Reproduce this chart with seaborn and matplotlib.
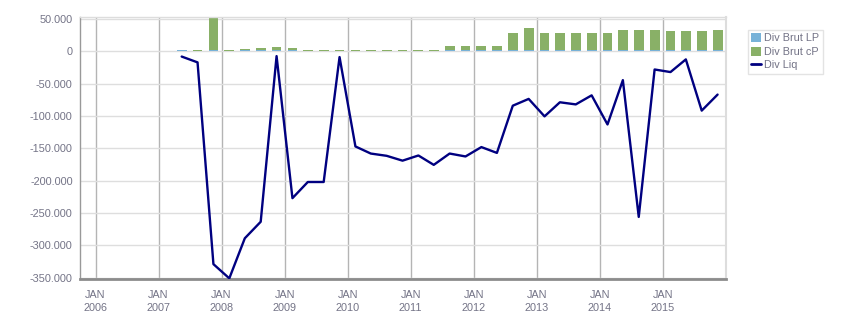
import numpy as np
import pandas as pd
import matplotlib
matplotlib.use("Agg")
import matplotlib.pyplot as plt
import matplotlib.dates as mdates
from matplotlib.patches import Patch
from matplotlib.lines import Line2D
import seaborn as sns

# ---- data (quarterly, Q2 2007 .. Q4 2015) ----
quarters = pd.date_range("2007-05-01", periods=35, freq="3MS") + pd.Timedelta(days=14)

div_brut_lp = [1500, 0, 1500, 0, 1500, 1500, 1500, 1500,
               0, 0, 0, 0, 0, 0, 0, 0, 0,
               1500, 1500, 1500, 1500, 1500, 1500, 1500, 1500, 1500,
               1500, 1500, 1500, 1500, 1500, 1500, 1500, 1500, 1500]

div_brut_cp = [600, 1500, 51800, 1500, 2100, 3700, 5200, 3700,
               1500, 1500, 1500, 1500, 1500, 1500, 1500, 1500, 1500,
               6800, 6800, 6800, 6800, 27500, 34700, 27500, 27500, 27500,
               27500, 27500, 31600, 31600, 31600, 30100, 30100, 30100, 31600]

div_liq = [-8000, -17000, -329000, -351000, -289000, -263500, -7300, -227000,
           -202000, -202000, -8800, -147000, -158000, -161500, -169000, -161000,
           -175500, -158000, -162500, -148000, -157000, -84000, -73500, -100500,
           -78700, -82000, -68000, -113000, -44500, -256000, -28000, -32000,
           -12400, -91600, -66800]

series_labels = ["Div Brut LP", "Div Brut cP", "Div Liq"]
y_ticks = list(range(-350000, 50001, 50000))
x_tick_years = list(range(2006, 2016))

# ---- style ----
sns.set_style("white")
plt.rcParams["font.family"] = ["Liberation Sans", "DejaVu Sans"]

GREEN = "#89b067"
BLUE = "#78b2d8"
NAVY = "#000080"
TXT = "#737386"

fig = plt.figure(figsize=(8.51, 3.13), dpi=100)
ax = fig.add_axes([79.7 / 851, 1 - 279 / 313, (725.7 - 79.7) / 851, (279 - 17.3) / 313])

xnum = mdates.date2num(quarters.to_pydatetime())
total = np.array(div_brut_lp) + np.array(div_brut_cp)

df = pd.DataFrame({"x": xnum, "total": total, "lp": div_brut_lp, "liq": div_liq})

sns.barplot(data=df, x="x", y="total", native_scale=True, color=GREEN, saturation=1,
            width=0.64, linewidth=0, errorbar=None, ax=ax, zorder=2)
sns.barplot(data=df, x="x", y="lp", native_scale=True, color=BLUE, saturation=1,
            width=0.64, linewidth=0, errorbar=None, ax=ax, zorder=2)
sns.lineplot(data=df, x="x", y="liq", color=NAVY, lw=1.7, ax=ax, zorder=3)

# ---- axes ----
ax.set_xlim(mdates.date2num(pd.Timestamp("2005-10-01")), mdates.date2num(pd.Timestamp("2016-01-01")))
ax.set_ylim(-352000, 52700)
ax.set_xlabel("")
ax.set_ylabel("")

major_x = [mdates.date2num(pd.Timestamp(f"{y}-01-01")) for y in x_tick_years]
ax.set_xticks(major_x)
ax.set_xticklabels([f"JAN\n{y}" for y in x_tick_years])
ax.xaxis.set_minor_locator(mdates.MonthLocator(bymonth=[4, 7, 10]))
ax.set_yticks(y_ticks)
ax.set_yticklabels([f"{v:,.0f}".replace(",", ".") for v in y_ticks])

ax.set_axisbelow(True)
ax.grid(axis="x", which="major", color="#b4b4b4", lw=1)
ax.grid(axis="y", which="major", color="#dedede", lw=1)

ax.tick_params(axis="x", which="major", length=3, width=1, color="#b4b4b4",
               labelsize=7.8, labelcolor=TXT, pad=5)
ax.tick_params(axis="x", which="minor", length=3, width=1, color="#999999")
ax.tick_params(axis="y", which="major", length=3, width=1, color="#999999",
               labelsize=7.8, labelcolor=TXT, pad=2)
for lab in ax.get_xticklabels():
    lab.set_linespacing(1.35)

ax.spines["left"].set_color("#999999")
ax.spines["left"].set_linewidth(1)
ax.spines["bottom"].set_color("#8c8c8c")
ax.spines["bottom"].set_linewidth(2)
ax.spines["top"].set_color("#dddddd")
ax.spines["top"].set_linewidth(1)
ax.spines["right"].set_color("#dddddd")
ax.spines["right"].set_linewidth(1.5)

handles = [Patch(facecolor=BLUE, edgecolor="none", label=series_labels[0]),
           Patch(facecolor=GREEN, edgecolor="none", label=series_labels[1]),
           Line2D([0], [0], color=NAVY, lw=2, label=series_labels[2])]
leg = fig.legend(handles=handles, loc="upper left", bbox_to_anchor=(748 / 851, 1 - 30 / 313),
                 frameon=True, fancybox=False, edgecolor="#dddddd", fontsize=7.8,
                 handlelength=0.9, handleheight=0.9, handletextpad=0.3, borderpad=0.3,
                 labelspacing=0.3, borderaxespad=0, labelcolor=TXT)
leg.get_frame().set_linewidth(1)

fig.savefig("out.png", dpi=100)
